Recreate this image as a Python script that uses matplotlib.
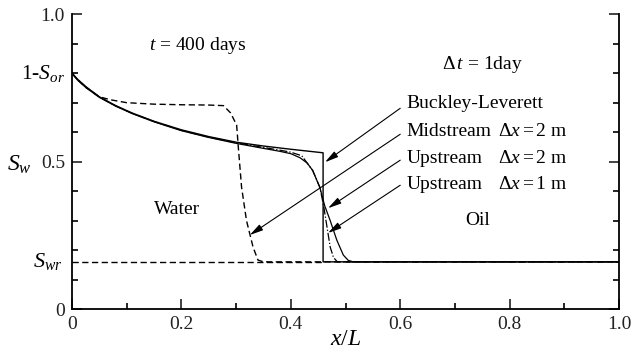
import numpy as np
import matplotlib
matplotlib.use("Agg")
import matplotlib.pyplot as plt
from matplotlib.ticker import MultipleLocator

plt.rcParams["font.family"] = ["Liberation Serif", "DejaVu Serif"]
plt.rcParams["mathtext.fontset"] = "custom"
plt.rcParams["mathtext.rm"] = "Liberation Serif"
plt.rcParams["mathtext.it"] = "Liberation Serif:italic"

# saturation profiles at t = 400 days
S_wr = 0.16
S_max = 0.8

x_bl = [0, 0.01, 0.025, 0.05, 0.08, 0.11, 0.15, 0.2, 0.25, 0.3, 0.35, 0.4, 0.459, 0.459, 1.0]
sw_bl = [0.8, 0.78, 0.755, 0.72, 0.69, 0.665, 0.637, 0.608, 0.585, 0.566, 0.553, 0.542, 0.53, 0.16, 0.16]

x_up2 = [0, 0.01, 0.025, 0.05, 0.08, 0.11, 0.15, 0.2, 0.25, 0.3, 0.35, 0.38, 0.4, 0.417,
         0.43, 0.44, 0.453, 0.462, 0.472, 0.484, 0.496, 0.505, 0.514, 1.0]
sw_up2 = [0.8, 0.777, 0.752, 0.718, 0.688, 0.663, 0.635, 0.605, 0.582, 0.562, 0.545, 0.535,
          0.527, 0.513, 0.495, 0.47, 0.413, 0.35, 0.3, 0.234, 0.183, 0.165, 0.16, 0.16]

x_up1 = [0, 0.01, 0.025, 0.05, 0.08, 0.11, 0.15, 0.2, 0.25, 0.3, 0.35, 0.38, 0.4, 0.42,
         0.44, 0.453, 0.46, 0.466, 0.472, 0.478, 0.485, 1.0]
sw_up1 = [0.8, 0.779, 0.754, 0.719, 0.689, 0.664, 0.636, 0.606, 0.583, 0.564, 0.548, 0.539,
          0.532, 0.52, 0.47, 0.413, 0.35, 0.28, 0.21, 0.175, 0.16, 0.16]

x_mid = [0, 0.01, 0.025, 0.05, 0.07, 0.1, 0.15, 0.2, 0.25, 0.277, 0.29, 0.301, 0.304,
         0.31, 0.319, 0.331, 0.34, 0.35, 1.0]
sw_mid = [0.8, 0.778, 0.752, 0.72, 0.71, 0.7, 0.695, 0.693, 0.692, 0.69, 0.665, 0.624, 0.55,
          0.413, 0.3, 0.21, 0.166, 0.16, 0.16]

fig = plt.figure(figsize=(6.33, 3.53), dpi=100)
ax = fig.add_axes([0.1137, 0.1246, 0.8643, 0.835])

ax.plot([0, 0.459], [S_wr, S_wr], "--", c="k", lw=1.0, dashes=(4.5, 2.5))
ax.plot(x_mid, sw_mid, "--", c="k", lw=1.0, dashes=(4.5, 2.5))
ax.plot(x_up1, sw_up1, "-.", c="k", lw=0.9)
ax.plot(x_up2, sw_up2, "-", c="k", lw=0.9)
ax.plot(x_bl, sw_bl, "-", c="k", lw=1.0)

ax.set_xlim(0, 1.0)
ax.set_ylim(0, 1.0)
ax.spines["top"].set_visible(False)
for s in ["left", "right", "bottom"]:
    ax.spines[s].set_linewidth(1.3)

ax.set_xticks([0, 0.2, 0.4, 0.6, 0.8, 1.0])
ax.set_xticklabels(["0", "0.2", "0.4", "0.6", "0.8", "1.0"], fontsize=14)
ax.xaxis.set_minor_locator(MultipleLocator(0.1))

ax.set_yticks([0, 0.5, 1.0])
ax.set_yticklabels(["0", "0.5", "1.0"], fontsize=14)
ax.yaxis.set_minor_locator(MultipleLocator(0.1))
ax.tick_params(which="major", direction="in", length=7, width=1.2, right=True, top=False,
               pad=5, colors="#222222")
ax.tick_params(which="minor", direction="in", length=4, width=1.2, right=True, top=False)

ax.text(-0.012, S_max, "1-$S_{or}$", fontsize=15.5, ha="right", va="center")
ax.text(-0.018, S_wr, "$S_{wr}$", fontsize=16, ha="right", va="center")
ax.text(-0.119, 0.49, "$S_w$", fontsize=17, ha="left", va="center")
ax.set_xlabel("$x/L$", fontsize=17, labelpad=-3)

ax.text(0.23, 0.895, "$t$ = 400 days", fontsize=14, ha="center", va="center")
ax.text(0.75, 0.83, "$\\Delta\\, t$ = 1day", fontsize=14, ha="center", va="center")
ax.text(0.192, 0.339, "Water", fontsize=14, ha="center", va="center")
ax.text(0.742, 0.30, "Oil", fontsize=14, ha="center", va="center")

labels = ["Buckley-Leverett", "Midstream", "Upstream", "Upstream"]
dx_text = ["", "$\\Delta x = 2$ m", "$\\Delta x = 2$ m", "$\\Delta x = 1$ m"]
label_y = [0.698, 0.603, 0.512, 0.424]
arrow_start = [(0.6, 0.681), (0.6, 0.593), (0.6, 0.505), (0.6, 0.42)]
arrow_tip = [(0.4625, 0.498), (0.325, 0.251), (0.468, 0.342), (0.468, 0.258)]

for name, dx, ly, p0, p1 in zip(labels, dx_text, label_y, arrow_start, arrow_tip):
    ax.text(0.612, ly, name, fontsize=14, ha="left", va="center")
    if dx:
        ax.text(0.778, ly, dx, fontsize=14, ha="left", va="center")
    ax.annotate("", xy=p1, xytext=p0,
                arrowprops=dict(arrowstyle="-|>,head_length=0.8,head_width=0.2",
                                color="k", lw=0.8, shrinkA=0, shrinkB=0))

fig.savefig("out.png", dpi=100)
